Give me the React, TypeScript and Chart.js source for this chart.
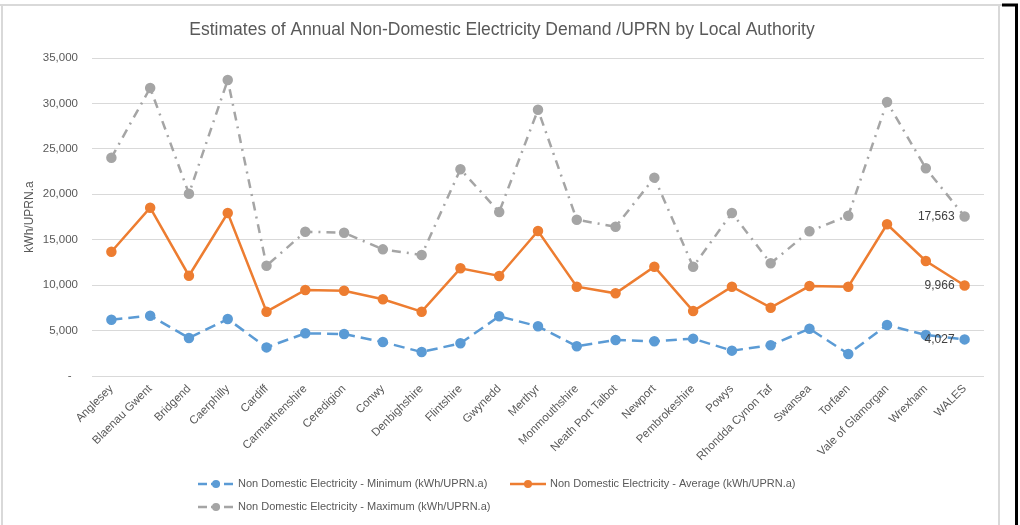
import React, { useEffect, useRef } from 'react';
import { Chart, registerables } from 'chart.js';

Chart.register(...registerables);

const categories = [
  'Anglesey', 'Blaenau Gwent', 'Bridgend', 'Caerphilly', 'Cardiff', 'Carmarthenshire',
  'Ceredigion', 'Conwy', 'Denbighshire', 'Flintshire', 'Gwynedd', 'Merthyr',
  'Monmouthshire', 'Neath Port Talbot', 'Newport', 'Pembrokeshire', 'Powys',
  'Rhondda Cynon Taf', 'Swansea', 'Torfaen', 'Vale of Glamorgan', 'Wrexham', 'WALES',
];

const minValues = [
  6200, 6640, 4180, 6270, 3150, 4700, 4620, 3740, 2640, 3600, 6570, 5470,
  3270, 3960, 3820, 4110, 2790, 3380, 5210, 2420, 5610, 4510, 4027,
];
const avgValues = [
  13680, 18520, 11040, 17940, 7080, 9470, 9390, 8440, 7080, 11850, 11010, 15960,
  9830, 9100, 12030, 7150, 9830, 7520, 9900, 9830, 16700, 12660, 9966,
];
const maxValues = [
  24030, 31700, 20060, 32580, 12140, 15880, 15770, 13940, 13320, 22750, 18050, 29310,
  17200, 16430, 21830, 12030, 17940, 12400, 15930, 17640, 30160, 22860, 17563,
];

const seriesNames = [
  'Non Domestic Electricity - Minimum (kWh/UPRN.a)',
  'Non Domestic Electricity - Average (kWh/UPRN.a)',
  'Non Domestic Electricity - Maximum (kWh/UPRN.a)',
];
const seriesColors = ['#5B9BD5', '#ED7D31', '#A5A5A5'];
const seriesDashes = [[11, 6], [], [9, 6, 2, 6]];

const titleText = 'Estimates of Annual Non-Domestic Electricity Demand /UPRN by Local Authority';
const yAxisTitle = 'kWh/UPRN.a';
const yMin = 0;
const yMax = 35000;
const yStep = 5000;

const FONT = "'Liberation Sans', Arial, sans-serif";
const TEXT = '#595959';

const framePlugin = {
  id: 'frame',
  beforeDraw(chart: any) {
    const ctx = chart.ctx;
    ctx.save();
    ctx.fillStyle = '#ffffff';
    ctx.fillRect(0, 0, chart.width, chart.height);
    ctx.strokeStyle = '#d9d9d9';
    ctx.lineWidth = 2;
    ctx.beginPath();
    ctx.moveTo(0, 5);
    ctx.lineTo(1002, 5);
    ctx.moveTo(2, 5);
    ctx.lineTo(2, 525);
    ctx.moveTo(999, 5);
    ctx.lineTo(999, 525);
    ctx.stroke();
    ctx.strokeStyle = '#000000';
    ctx.lineWidth = 3;
    ctx.beginPath();
    ctx.moveTo(1002, 5);
    ctx.lineTo(1016.5, 5);
    ctx.lineTo(1016.5, 525);
    ctx.stroke();
    // title
    ctx.fillStyle = TEXT;
    ctx.font = `17.5px ${FONT}`;
    ctx.textAlign = 'center';
    ctx.textBaseline = 'middle';
    ctx.fillText(titleText, 502, 30);
    ctx.restore();
  },
};

const labelsPlugin = {
  id: 'lastLabels',
  afterDatasetsDraw(chart: any) {
    const ctx = chart.ctx;
    ctx.save();
    ctx.font = `12px ${FONT}`;
    ctx.fillStyle = '#404040';
    ctx.textAlign = 'right';
    ctx.textBaseline = 'middle';
    chart.data.datasets.forEach((ds: any, i: number) => {
      const meta = chart.getDatasetMeta(i);
      const idx = ds.data.length - 1;
      const pt = meta.data[idx];
      if (!pt) return;
      ctx.fillText(Number(ds.data[idx]).toLocaleString('en-US'), pt.x - 10, pt.y);
    });
    ctx.restore();
  },
};

const legendPlugin = {
  id: 'customLegend',
  afterDraw(chart: any) {
    const ctx = chart.ctx;
    const slots = [
      { x: 198, y: 484 },
      { x: 510, y: 484 },
      { x: 198, y: 507 },
    ];
    ctx.save();
    chart.data.datasets.forEach((ds: any, i: number) => {
      const s = slots[i];
      ctx.strokeStyle = ds.borderColor;
      ctx.lineWidth = 2.5;
      ctx.setLineDash(seriesDashes[i].length ? [9, 4] : []);
      ctx.beginPath();
      ctx.moveTo(s.x, s.y);
      ctx.lineTo(s.x + 36, s.y);
      ctx.stroke();
      ctx.setLineDash([]);
      ctx.fillStyle = ds.backgroundColor;
      ctx.beginPath();
      ctx.arc(s.x + 18, s.y, 4, 0, Math.PI * 2);
      ctx.fill();
      ctx.fillStyle = TEXT;
      ctx.font = `11px ${FONT}`;
      ctx.textAlign = 'left';
      ctx.textBaseline = 'middle';
      ctx.fillText(ds.label, s.x + 40, s.y);
    });
    ctx.restore();
  },
};

export default function App() {
  const ref = useRef<HTMLCanvasElement | null>(null);

  useEffect(() => {
    if (!ref.current) return;
    const values = [minValues, avgValues, maxValues];
    const chart = new Chart(ref.current, {
      type: 'line',
      data: {
        labels: categories,
        datasets: values.map((v, i) => ({
          label: seriesNames[i],
          data: v,
          borderColor: seriesColors[i],
          backgroundColor: seriesColors[i],
          pointBackgroundColor: seriesColors[i],
          pointBorderColor: seriesColors[i],
          borderWidth: 2.5,
          borderDash: seriesDashes[i],
          pointRadius: 4,
          pointHoverRadius: 4,
          tension: 0,
          fill: false,
        })),
      },
      options: {
        responsive: false,
        animation: false,
        devicePixelRatio: 1,
        layout: { padding: { top: 58, right: 36, left: 0, bottom: 0 } },
        plugins: {
          legend: { display: false },
          title: { display: false },
          tooltip: { enabled: false },
        },
        scales: {
          x: {
            type: 'category',
            offset: true,
            grid: { display: false, drawTicks: false },
            border: { display: false },
            ticks: {
              autoSkip: false,
              maxRotation: 45,
              minRotation: 45,
              padding: 6,
              color: TEXT,
              font: { family: FONT, size: 11.5 },
            },
            afterFit(scale: any) {
              scale.height = 149;
            },
          },
          y: {
            min: yMin,
            max: yMax,
            grid: { color: '#d9d9d9', lineWidth: 1, drawTicks: false },
            border: { display: false },
            ticks: {
              stepSize: yStep,
              padding: 14,
              color: TEXT,
              font: { family: FONT, size: 11.5 },
              callback: (v: any) => (Number(v) === 0 ? '-  ' : Number(v).toLocaleString('en-US')),
            },
            title: {
              display: true,
              text: yAxisTitle,
              color: TEXT,
              font: { family: FONT, size: 12 },
              padding: { top: 22, bottom: 0 },
            },
            afterFit(scale: any) {
              scale.width = 92;
            },
          },
        },
      },
      plugins: [framePlugin, labelsPlugin, legendPlugin],
    });
    return () => chart.destroy();
  }, []);

  return (
    <div style={{ position: 'fixed', left: 0, top: 0, width: 1020, height: 525, background: '#fff' }}>
      <canvas ref={ref} width={1020} height={525} style={{ width: 1020, height: 525 }} />
    </div>
  );
}
